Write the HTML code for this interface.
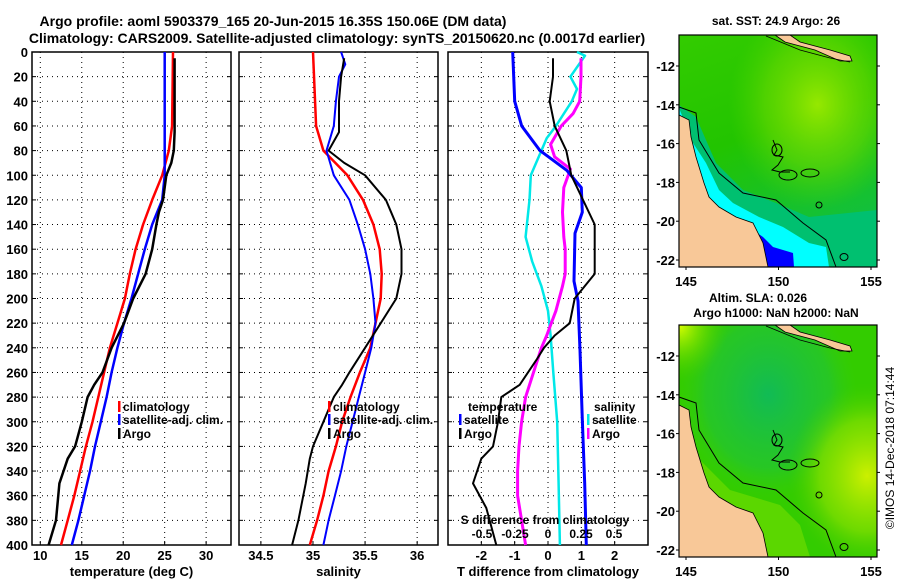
<!DOCTYPE html>
<html><head><meta charset="utf-8"><style>
body{margin:0;background:#fff;}
svg{display:block;font-family:"Liberation Sans",sans-serif;font-weight:bold;}
</style></head><body>
<svg id="c" width="900" height="580" viewBox="0 0 900 580">
<defs>
<linearGradient id="sstBase" x1="0" y1="0" x2="0.3" y2="1">
<stop offset="0" stop-color="#33cc00"/><stop offset="0.5" stop-color="#22c400"/><stop offset="1" stop-color="#11c040"/></linearGradient>
<radialGradient id="sstYellow" cx="0.7" cy="0.3" r="0.45">
<stop offset="0" stop-color="#aaee00" stop-opacity="0.85"/><stop offset="0.6" stop-color="#77dd00" stop-opacity="0.5"/><stop offset="1" stop-color="#55d800" stop-opacity="0"/></radialGradient>
<radialGradient id="slaTeal" cx="0.45" cy="0.3" r="0.45">
<stop offset="0" stop-color="#11bb55"/><stop offset="0.7" stop-color="#22c433" stop-opacity="0.7"/><stop offset="1" stop-color="#33cc11" stop-opacity="0"/></radialGradient>
<radialGradient id="slaYellow" cx="0.95" cy="0.65" r="0.4">
<stop offset="0" stop-color="#ccf000"/><stop offset="0.6" stop-color="#88e000" stop-opacity="0.7"/><stop offset="1" stop-color="#44cc00" stop-opacity="0"/></radialGradient>
<radialGradient id="slaCorner" cx="0" cy="0" r="0.25">
<stop offset="0" stop-color="#ddff00"/><stop offset="1" stop-color="#44cc00" stop-opacity="0"/></radialGradient>
</defs>
<text x="273" y="26" font-size="14" text-anchor="middle">Argo profile: aoml 5903379_165 20-Jun-2015 16.35S 150.06E (DM data)</text>
<text x="337" y="43" font-size="14" text-anchor="middle">Climatology: CARS2009. Satellite-adjusted climatology: synTS_20150620.nc (0.0017d earlier)</text>
</svg>
<script>
const NS='http://www.w3.org/2000/svg';
const svg=document.getElementById('c');
function mk(tag,attrs,parent){const e=document.createElementNS(NS,tag);for(const k in attrs)e.setAttribute(k,attrs[k]);(parent||svg).appendChild(e);return e;}

// ---------- data ----------
const depthTicks=[0,20,40,60,80,100,120,140,160,180,200,220,240,260,280,300,320,340,360,380,400];
const tempTicks=[10,15,20,25,30];
const salTicks=[34.5,35,35.5,36];
const tdiffTicks=[-2,-1,0,1,2];
const sdiffTickLabels=["-0.5","-0.25","0","0.25","0.5"];
const sdiffTicks=[-0.5,-0.25,0,0.25,0.5];

const climDepth=[0,60,80,100,120,140,160,180,200,220,240,260,280,300,320,340,360,380,400];
const climTemp=[26,25.9,25.5,24.7,23.5,22.4,21.5,20.8,20.2,19.3,18.4,17.7,17.0,16.3,15.5,14.8,14.1,13.3,12.5];
const climSal=[35.0,35.03,35.1,35.33,35.48,35.58,35.64,35.66,35.65,35.6,35.55,35.45,35.36,35.28,35.22,35.15,35.1,35.04,34.97];

const satDepth=[0,10,20,40,60,80,100,120,140,160,180,200,220,240,260,280,300,320,340,360,380,400];
const satTemp=[25.0,25.0,25.0,25.0,25.0,25.0,25.0,24.7,23.5,22.6,21.8,21.0,20.1,19.3,18.6,18.0,17.3,16.6,16.0,15.3,14.6,13.8];
const satSal=[35.27,35.31,35.25,35.22,35.2,35.13,35.2,35.35,35.43,35.5,35.55,35.58,35.6,35.56,35.5,35.44,35.38,35.32,35.27,35.21,35.15,35.1];

const argoDepth=[5,20,40,65,80,90,100,120,130,140,160,180,200,220,240,260,270,280,300,320,330,350,380,400];
const argoTemp=[26.2,26.2,26.2,26.2,26.1,25.8,25.2,24.8,24.3,24.0,23.5,22.7,21.2,20.1,18.6,17.5,16.5,15.7,15.0,14.2,13.3,12.3,11.9,11.0];
const argoSal=[35.3,35.27,35.25,35.25,35.15,35.3,35.5,35.7,35.75,35.8,35.85,35.85,35.8,35.65,35.5,35.35,35.28,35.2,35.1,35.0,34.97,34.93,34.86,34.8];

const tsDepth=[0,40,60,80,96,110,130,147,186,202,242,298,350,400];
const tSatDiff=[-1.06,-1.0,-0.79,-0.24,0.56,1.0,1.03,0.81,0.78,0.9,0.96,1.03,1.1,1.15];

const taDepth=[5,20,40,60,80,100,120,140,180,200,220,230,240,250,270,280,300,320,330,350,370,400];
const tArgoDiff=[0.15,0.15,0.05,0.2,0.55,0.7,1.05,1.4,1.4,0.8,0.65,0.2,-0.12,-0.35,-0.85,-1.4,-1.5,-1.65,-2.0,-2.25,-1.85,-1.55];

const ssDepth=[0,3,20,30,40,60,70,80,100,120,150,170,190,210,230,260,300,350,400];
const sSatDiff=[0.22,0.28,0.17,0.22,0.18,0.06,-0.01,-0.05,-0.13,-0.14,-0.17,-0.12,-0.05,0,0.02,0.04,0.07,0.08,0.09];

const saDepth=[5,20,40,50,60,75,85,95,110,130,150,160,180,190,210,230,240,260,280,300,320,340,360,400];
const sArgoDiff=[0.25,0.25,0.24,0.19,0.1,0.02,0.05,0.17,0.12,0.11,0.12,0.13,0.13,0.11,0.06,-0.01,-0.05,-0.11,-0.17,-0.2,-0.22,-0.23,-0.23,-0.17];

// ---------- axes ----------
const Y0=52,Y1=545;
const yD=d=>Y0+(d/400)*(Y1-Y0);
function panel(x0,x1,dom,name){
  const sx=v=>x0+(v-dom[0])/(dom[1]-dom[0])*(x1-x0);
  return {x0,x1,sx,name};
}
const P1=panel(32,231,[9,33],'temperature');
const P2=panel(239,438,[34.29,36.2],'salinity');
const P3=panel(448,648,[-3,3],'difference');
const sxS=v=>548+v*132;

function frame(P,xt,labels,title,showDepth){
  const g=mk('g',{});
  
  
  depthTicks.forEach(d=>{
    if(d>0&&d<400){const l=mk('line',{x1:P.x0,x2:P.x1,y1:yD(d),y2:yD(d),stroke:'#000','stroke-width':1,'stroke-dasharray':'1 4'},g);
    }
    mk('line',{x1:P.x0,x2:P.x0+4,y1:yD(d),y2:yD(d),stroke:'#000'},g);
    mk('line',{x1:P.x1-4,x2:P.x1,y1:yD(d),y2:yD(d),stroke:'#000'},g);
    if(showDepth){const t=mk('text',{x:P.x0-4,y:yD(d)+5,'font-size':13,'text-anchor':'end'},g);t.textContent=d;
      }
  });
  xt.forEach((v,i)=>{
    const x=P.sx(v);
    const l=mk('line',{x1:x,x2:x,y1:Y0,y2:Y1,stroke:'#000','stroke-dasharray':'1 4'},g);
    
    mk('line',{x1:x,x2:x,y1:Y1-4,y2:Y1,stroke:'#000'},g);
    const t=mk('text',{x:x,y:560,'font-size':13,'text-anchor':'middle'},g);t.textContent=labels[i];
    
  });
  mk('rect',{x:P.x0,y:Y0,width:P.x1-P.x0,height:Y1-Y0,fill:'none',stroke:'#000','stroke-width':1.5},g);
  const t=mk('text',{x:(P.x0+P.x1)/2,y:576,'font-size':13,'text-anchor':'middle'},g);t.textContent=title;
  
}
frame(P1,tempTicks,tempTicks,'temperature (deg C)',true);
frame(P2,salTicks,salTicks,'salinity',false);
frame(P3,tdiffTicks,tdiffTicks,'T difference from climatology',false);

function line(depths,vals,sx,color,w,name){
  const pts=depths.map((d,i)=>sx(vals[i]).toFixed(1)+','+yD(d).toFixed(1)).join(' ');
  const p=mk('polyline',{points:pts,fill:'none',stroke:color,'stroke-width':w,'stroke-linejoin':'round'});
  
  
}
line(climDepth,climTemp,P1.sx,'#ff0000',2.5,'climatology-temperature-line');
line(satDepth,satTemp,P1.sx,'#0000ff',2.5,'satellite-temperature-line');
line(argoDepth,argoTemp,P1.sx,'#000',2.5,'argo-temperature-line');
line(climDepth,climSal,P2.sx,'#ff0000',2.5,'climatology-salinity-line');
line(satDepth,satSal,P2.sx,'#0000ff',2,'satellite-salinity-line');
line(argoDepth,argoSal,P2.sx,'#000',2,'argo-salinity-line');
line(ssDepth,sSatDiff,sxS,'#00e8e8',2.5,'salinity-satellite-diff-line');
line(saDepth,sArgoDiff,sxS,'#ff00ff',3,'salinity-argo-diff-line');
line(tsDepth,tSatDiff,P3.sx,'#0000ff',3,'temperature-satellite-diff-line');
line(taDepth,tArgoDiff,P3.sx,'#000',2,'temperature-argo-diff-line');

const sl=mk('text',{x:545,y:524,'font-size':12,'text-anchor':'middle'});sl.textContent='S difference from climatology';

sdiffTicks.forEach((v,i)=>{const t=mk('text',{x:sxS(v),y:538,'font-size':12,'text-anchor':'middle'});t.textContent=sdiffTickLabels[i];
  });

function leg(x,y,color,label,name){
  const g=mk('g',{});
  mk('rect',{x:x,y:y-10,width:2.5,height:11,fill:color},g);
  const t=mk('text',{x:x+5,y:y,'font-size':12},g);t.textContent=label;
}
[118,328].forEach(x=>{
  leg(x,411,'#ff0000','climatology','legend-climatology');
  leg(x,424,'#0000ff','satellite-adj. clim.','legend-satellite-adj');
  leg(x,438,'#000','Argo','legend-argo');
});
let t=mk('text',{x:468,y:411,'font-size':12});t.textContent='temperature';

leg(459,424,'#0000ff','satellite','legend-temperature-satellite');
leg(459,438,'#000','Argo','legend-temperature-argo');
t=mk('text',{x:594,y:411,'font-size':12});t.textContent='salinity';

leg(587,424,'#00e8e8','satellite','legend-salinity-satellite');
leg(587,438,'#ff00ff','Argo','legend-salinity-argo');

// ---------- maps ----------
const latTicks=[-12,-14,-16,-18,-20,-22];
const lonTicks=[145,150,155];
function map(y0,y1,kind){
  const x0=679,x1=877;
  const g=mk('g',{});
  
  
  const sx=lon=>686+(lon-145)*18.5;
  const o=y0-35;
  const P=a=>a.map(p=>p[0]+','+(p[1]+o)).join(' ');
  if(kind==='sst'){
    mk('rect',{x:x0,y:y0,width:x1-x0,height:y1-y0,fill:'url(#sstBase)'},g);
    mk('rect',{x:x0,y:y0,width:x1-x0,height:y1-y0,fill:'url(#sstYellow)'},g);
    mk('polygon',{points:P([[679,105],[696,117],[716,163],[743,190],[776,203],[809,217],[877,210],[877,267],[679,267]]),fill:'#00c070'},g);
    mk('polygon',{points:P([[679,108],[693,143],[706,163],[719,190],[733,203],[759,217],[783,227],[809,243],[826,247],[829,267],[679,267]]),fill:'#00ffff'},g);
    mk('polygon',{points:P([[753,230],[763,237],[773,247],[793,253],[794,267],[768,267]]),fill:'#0000ff'},g);
  } else {
    mk('rect',{x:x0,y:y0,width:x1-x0,height:y1-y0,fill:'#33cc00'},g);
    mk('rect',{x:x0,y:y0,width:x1-x0,height:y1-y0,fill:'url(#slaTeal)'},g);
    mk('rect',{x:x0,y:y0,width:x1-x0,height:y1-y0,fill:'url(#slaYellow)'},g);
    mk('rect',{x:x0,y:y0,width:x1-x0,height:y1-y0,fill:'url(#slaCorner)'},g);
    mk('polygon',{points:P([[700,170],[730,200],[780,215],[800,235],[810,267],[760,267],[715,220]]),fill:'#77dd00',opacity:0.6},g);
  }
  mk('polygon',{points:P([[679,115],[689,120],[691,137],[696,157],[704,183],[709,197],[719,207],[736,217],[753,223],[763,243],[768,267],[679,267]]),fill:'#f8c898',stroke:'#000','stroke-width':0.8},g);
  mk('polygon',{points:P([[775,35],[790,35],[800,42],[830,50],[850,56],[852,61],[840,61],[815,50],[785,42]]),fill:'#f8c898',stroke:'#000','stroke-width':0.8},g);
  mk('polyline',{points:P([[679,107],[696,113],[699,140],[719,173],[743,193],[776,200],[803,223],[826,240],[836,267]]),fill:'none',stroke:'#000','stroke-width':1},g);
  mk('polyline',{points:P([[766,36],[800,50],[830,58],[850,62]]),fill:'none',stroke:'#000','stroke-width':0.8},g);
  mk('polyline',{points:P([[773,140],[777,150],[774,155],[783,157],[778,165],[772,170],[780,172],[790,172]]),fill:'none',stroke:'#000','stroke-width':1},g);
  mk('ellipse',{cx:777,cy:o+150,rx:5,ry:6,fill:'none',stroke:'#000'},g);
  mk('ellipse',{cx:788,cy:o+175,rx:9,ry:5,fill:'none',stroke:'#000'},g);
  mk('ellipse',{cx:810,cy:o+173,rx:9,ry:4,fill:'none',stroke:'#000'},g);
  mk('ellipse',{cx:819,cy:o+205,rx:3,ry:3,fill:'none',stroke:'#000'},g);
  mk('ellipse',{cx:844,cy:o+257,rx:4,ry:3.5,fill:'none',stroke:'#000'},g);
  mk('rect',{x:x0,y:y0,width:x1-x0,height:y1-y0,fill:'none',stroke:'#000','stroke-width':1.2},g);
  latTicks.forEach((lat,i)=>{
    const y=y0+31+i*38.8;
    mk('line',{x1:x0-3,x2:x0,y1:y,y2:y,stroke:'#000'},g);
    mk('line',{x1:x1,x2:x1+3,y1:y,y2:y,stroke:'#000'},g);
    const tt=mk('text',{x:x0-4,y:y+5,'font-size':13,'text-anchor':'end'},g);tt.textContent=lat;
    
  });
  lonTicks.forEach(lon=>{
    const x=sx(lon);
    mk('line',{x1:x,x2:x,y1:y1,y2:y1+3,stroke:'#000'},g);
    const tt=mk('text',{x:x,y:y1+19,'font-size':13,'text-anchor':'middle'},g);tt.textContent=lon;
    
  });
}
map(35,267,'sst');
map(325,557,'sla');
t=mk('text',{x:776,y:25,'font-size':12,'text-anchor':'middle'});t.textContent='sat. SST: 24.9 Argo: 26';

t=mk('text',{x:758,y:302,'font-size':12,'text-anchor':'middle'});t.textContent='Altim. SLA: 0.026';

t=mk('text',{x:776,y:317,'font-size':12,'text-anchor':'middle'});t.textContent='Argo h1000: NaN h2000: NaN';

t=mk('text',{x:0,y:0,'font-size':12,'font-weight':'normal','text-anchor':'middle',transform:'translate(894,448) rotate(-90)'});t.textContent='©IMOS 14-Dec-2018 07:14:44';

</script>
</body></html>
